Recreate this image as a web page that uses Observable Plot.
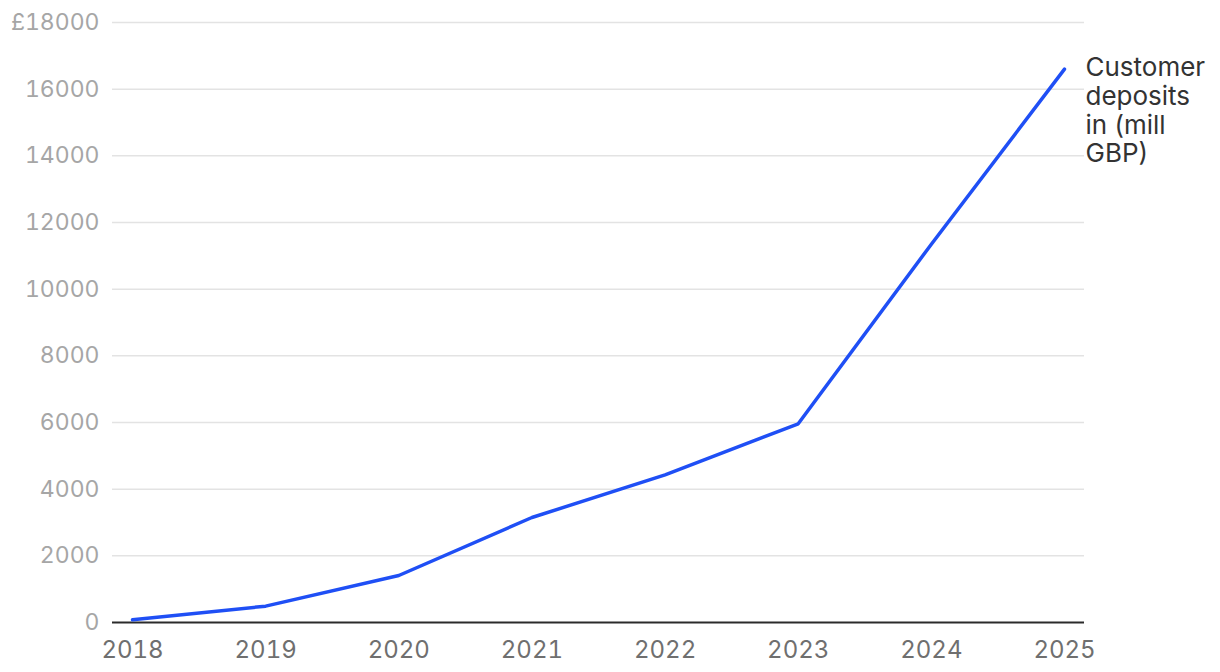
<!DOCTYPE html>
<html>
<head>
<meta charset="utf-8">
<script src="https://cdn.jsdelivr.net/npm/d3@7"></script>
<script src="https://cdn.jsdelivr.net/npm/@observablehq/plot@0.6"></script>
<style>
  html, body { margin: 0; padding: 0; background: #fff; }
  #chart { width: 1220px; height: 672px; }
</style>
</head>
<body>
<div id="chart"></div>
<script>
const years = [2018, 2019, 2020, 2021, 2022, 2023, 2024, 2025];
const deposits = [80, 490, 1410, 3150, 4430, 5960, 11350, 16600];
const yTicks = [0, 2000, 4000, 6000, 8000, 10000, 12000, 14000, 16000, 18000];
const seriesLabel = "Customer\ndeposits\nin (mill\nGBP)";

const data = years.map((year, i) => ({year, value: deposits[i]}));
const last = data[data.length - 1];

const chart = Plot.plot({
  width: 1220,
  height: 672,
  marginTop: 22,
  marginBottom: 50,
  marginLeft: 112,
  marginRight: 136,
  style: {fontFamily: "Inter, 'Noto Sans', sans-serif", fontSize: "23px", background: "#fff"},
  x: {domain: [2018, 2025], insetLeft: 20, insetRight: 20},
  y: {domain: [0, 18000]},
  marks: [
    Plot.ruleY(yTicks.filter(d => d > 0), {stroke: "#e3e3e3", strokeWidth: 1.5}),
    Plot.axisY(yTicks, {
      tickSize: 0, tickPadding: 13, fill: "#a6a6a6", fontSize: 23,
      tickFormat: d => d === 18000 ? "£18000" : String(d), label: null
    }),
    Plot.axisX(years, {
      tickSize: 0, tickPadding: 18, fill: "#6f6f6f", fontSize: 24,
      tickFormat: d => String(d), label: null
    }),
    Plot.ruleY([0], {stroke: "#2b2b2b", strokeWidth: 2}),
    Plot.line(data, {x: "year", y: "value", stroke: "#1f4ff5", strokeWidth: 3.5, curve: "linear"}),
    Plot.text([last], {
      x: "year", y: "value", text: () => seriesLabel,
      textAnchor: "start", lineAnchor: "top", dx: 21, dy: -13,
      lineHeight: 1.1, fill: "#333", fontSize: 26
    })
  ]
});
document.getElementById("chart").appendChild(chart);
</script>
</body>
</html>
